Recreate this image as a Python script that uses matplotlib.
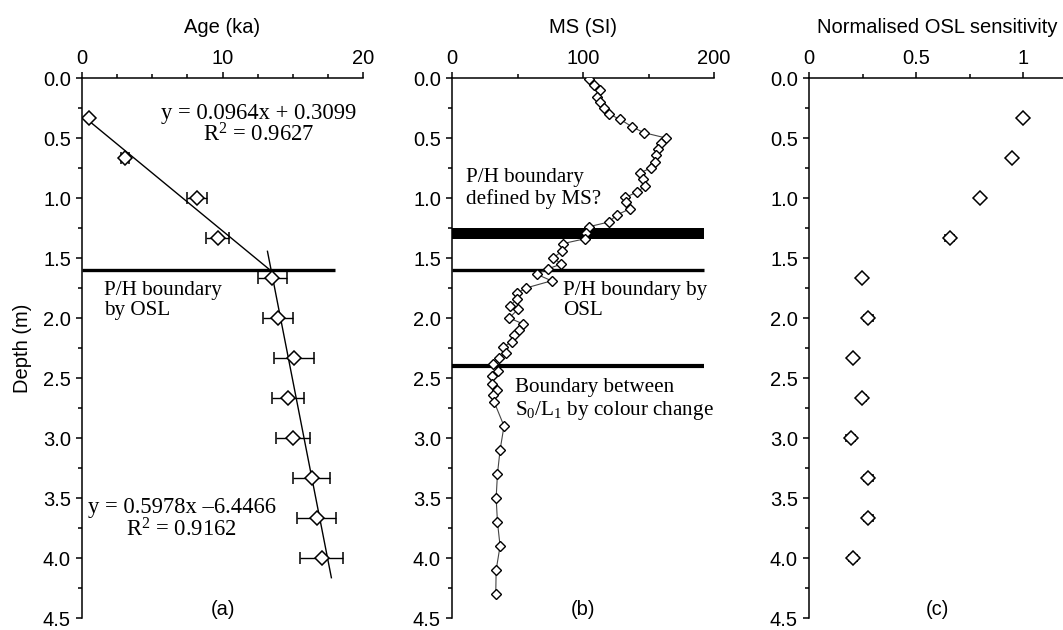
import numpy as np
import matplotlib
matplotlib.use("Agg")
import matplotlib.pyplot as plt
from matplotlib.ticker import MultipleLocator, FuncFormatter

# ── Data ─────────────────────────────────────────────────────────────────────
sample_depth = [0.33, 0.67, 1.00, 1.33, 1.67, 2.00, 2.33, 2.67, 3.00, 3.33, 3.67, 4.00]
age_ka       = [0.5, 3.05, 8.2, 9.65, 13.55, 13.95, 15.1, 14.65, 15.0, 16.35, 16.7, 17.05]
age_err      = [0.1, 0.3, 0.7, 0.8, 1.05, 1.1, 1.4, 1.15, 1.2, 1.3, 1.4, 1.5]
osl_sens     = [1.0, 0.947, 0.80, 0.657, 0.249, 0.277, 0.206, 0.249, 0.195, 0.277, 0.277, 0.206]
osl_err      = [0.005, 0.01, 0.01, 0.02, 0.01, 0.02, 0.01, 0.015, 0.02, 0.02, 0.02, 0.02]

ms_depth = [0.01, 0.055, 0.10, 0.155, 0.20, 0.25, 0.30, 0.345, 0.405, 0.455,
            0.50, 0.545, 0.59, 0.64, 0.70, 0.75, 0.79, 0.84, 0.90, 0.95,
            0.995, 1.03, 1.09, 1.14, 1.20, 1.24, 1.29, 1.34, 1.38, 1.44,
            1.50, 1.55, 1.59, 1.635, 1.69, 1.75, 1.795, 1.84, 1.90, 1.925,
            2.00, 2.05, 2.10, 2.14, 2.20, 2.24, 2.29, 2.33, 2.385, 2.44,
            2.48, 2.55, 2.60, 2.64, 2.70, 2.90, 3.10, 3.30, 3.50, 3.70,
            3.90, 4.10, 4.30]
ms_si    = [104.3, 108.4, 112.7, 110.6, 112.7, 115.7, 119.7, 128.4, 137.2, 146.3,
            163.3, 159.5, 157.0, 155.7, 155.2, 151.9, 143.5, 145.6, 147.6, 141.3,
            132.4, 132.9, 135.9, 126.0, 119.7, 104.3, 102.5, 101.3, 84.8, 84.3,
            77.2, 83.5, 73.4, 64.6, 76.0, 56.5, 49.4, 49.8, 44.3, 50.6,
            43.7, 54.4, 51.4, 47.3, 45.6, 39.2, 41.2, 36.1, 31.5, 34.9,
            30.4, 30.4, 34.2, 31.6, 32.2, 39.7, 36.7, 34.7, 33.7, 34.7,
            36.7, 33.7, 33.4]

# regressions (depth = a*age + b), drawn between two ages
fit_upper = (0.0964, 0.3099, 0.3, 13.4)
fit_lower = (0.5978, -6.4466, 13.2, 17.75)

SANS = "Liberation Sans"
SERIF = "Liberation Serif"
plt.rcParams["font.family"] = SANS
plt.rcParams["mathtext.fontset"] = "custom"
plt.rcParams["mathtext.rm"] = SERIF
plt.rcParams["mathtext.it"] = SERIF + ":italic"
plt.rcParams["mathtext.default"] = "rm"

TICK_FS = 14.5
EQ_FS = 16.3     # regression equations
TXT_FS = 15.2    # boundary notes

W, H = 1063, 630
fig = plt.figure(figsize=(W / 100, H / 100), dpi=100)


def make_ax(left, right, top=78, bottom=618):
    ax = fig.add_axes([left / W, 1 - bottom / H, (right - left) / W, (bottom - top) / H])
    ax.set_ylim(4.5, 0)
    ax.xaxis.tick_top()
    ax.xaxis.set_label_position("top")
    for s in ("bottom", "right"):
        ax.spines[s].set_visible(False)
    for s in ("top", "left"):
        ax.spines[s].set_linewidth(1.1)
    ax.tick_params(which="both", direction="out", width=1.1, labelsize=TICK_FS)
    ax.tick_params(axis="x", which="both", top=True, bottom=False, pad=3.5)
    ax.tick_params(axis="y", which="both", left=True, right=False, pad=4)
    ax.tick_params(which="major", length=4)
    ax.tick_params(which="minor", length=3)
    ax.yaxis.set_major_locator(MultipleLocator(0.5))
    ax.yaxis.set_minor_locator(MultipleLocator(0.25))
    ax.yaxis.set_major_formatter(FuncFormatter(lambda v, p: f"{v:.1f}"))
    ax.xaxis.set_major_formatter(FuncFormatter(lambda v, p: f"{v:g}"))
    return ax


# ── (a) Age ──────────────────────────────────────────────────────────────────
ax1 = make_ax(82, 363)
ax1.set_xlim(0, 20)
ax1.xaxis.set_major_locator(MultipleLocator(10))
ax1.xaxis.set_minor_locator(MultipleLocator(2.5))
ax1.set_xlabel("Age (ka)", fontsize=TICK_FS, labelpad=11)
ax1.set_ylabel("Depth (m)", fontsize=TICK_FS, labelpad=8)

ax1.hlines(1.6, 0, 18, color="black", linewidth=2.4, zorder=2)
for a, b, x0, x1 in (fit_upper, fit_lower):
    xs = np.array([x0, x1])
    ax1.plot(xs, a * xs + b, color="black", linewidth=1.0, zorder=3)
ax1.errorbar(age_ka, sample_depth, xerr=age_err, fmt="D", ms=7, mfc="white", mec="black",
             mew=1.1, ecolor="black", elinewidth=1.0, capsize=4, capthick=1.0, zorder=4)

ax1.text(12.6, 0.39, "y = 0.0964x + 0.3099\nR$^2$ = 0.9627", family=SERIF, fontsize=EQ_FS,
         ha="center", va="center", multialignment="center", linespacing=1.0)
ax1.text(7.1, 3.68, "y = 0.5978x \u20136.4466\nR$^2$ = 0.9162", family=SERIF, fontsize=EQ_FS,
         ha="center", va="center", multialignment="center", linespacing=1.0)
ax1.text(1.6, 1.69, "P/H boundary\nby OSL", family=SERIF, fontsize=TXT_FS,
         ha="left", va="top", linespacing=1.1)
ax1.text(10, 4.43, "(a)", fontsize=TICK_FS, ha="center", va="center")

# ── (b) MS ───────────────────────────────────────────────────────────────────
ax2 = make_ax(452, 714)
ax2.set_xlim(0, 200)
ax2.xaxis.set_major_locator(MultipleLocator(100))
ax2.xaxis.set_minor_locator(MultipleLocator(50))
ax2.set_xlabel("MS (SI)", fontsize=TICK_FS, labelpad=11)

ax2.fill_between([0, 192], 1.25, 1.345, color="black", linewidth=0, zorder=2)
ax2.hlines(1.6, 0, 192, color="black", linewidth=2.4, zorder=2)
ax2.hlines(2.4, 0, 192, color="black", linewidth=3.0, zorder=2)
ax2.plot(ms_si, ms_depth, "-", color="#444444", linewidth=0.8, zorder=3)
ax2.plot(ms_si, ms_depth, "D", ms=5.5, mfc="white", mec="black", mew=1.0, linestyle="none", zorder=4)

ax2.text(11, 0.92, "P/H boundary\ndefined by MS?", family=SERIF, fontsize=TXT_FS,
         ha="left", va="center", linespacing=1.1)
ax2.text(85, 1.69, "P/H boundary by\nOSL", family=SERIF, fontsize=TXT_FS,
         ha="left", va="top", linespacing=1.1)
ax2.text(48, 2.5, "Boundary between\nS$_0$/L$_1$ by colour change", family=SERIF, fontsize=TXT_FS,
         ha="left", va="top", linespacing=1.1)
ax2.text(100, 4.43, "(b)", fontsize=TICK_FS, ha="center", va="center")

# ── (c) OSL sensitivity ──────────────────────────────────────────────────────
ax3 = make_ax(809, 1066)
ax3.set_xlim(0, 1.2)
ax3.xaxis.set_major_locator(MultipleLocator(0.5))
ax3.xaxis.set_minor_locator(MultipleLocator(0.25))
ax3.set_xlabel("Normalised OSL sensitivity", fontsize=TICK_FS, labelpad=11)
ax3.errorbar(osl_sens, sample_depth, xerr=osl_err, fmt="D", ms=7, mfc="white", mec="black",
             mew=1.1, ecolor="black", elinewidth=1.0, capsize=3, capthick=1.0, zorder=4)
ax3.text(0.6, 4.43, "(c)", fontsize=TICK_FS, ha="center", va="center")

fig.savefig("out.png", dpi=100)
